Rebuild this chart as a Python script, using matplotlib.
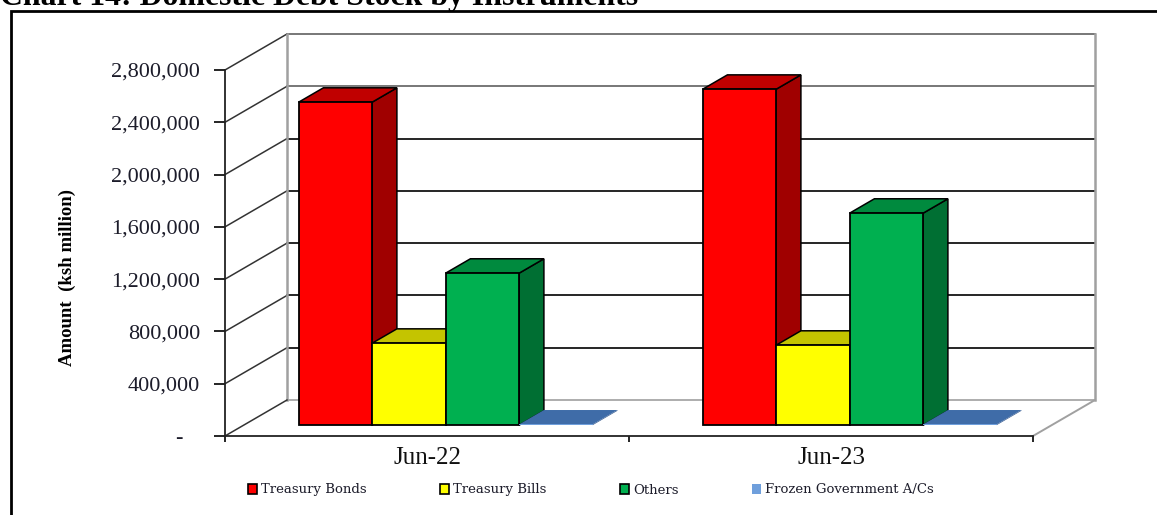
import matplotlib
matplotlib.use('Agg')
import matplotlib.pyplot as plt
from matplotlib.patches import Patch, Polygon

plt.rcParams['font.family'] = ['Liberation Serif', 'DejaVu Serif']

# Data
periods = ['Jun-22', 'Jun-23']
series_names = ['Treasury Bonds', 'Treasury Bills', 'Others', 'Frozen Government A/Cs']
treasury_bonds = [2471000, 2570000]
treasury_bills = [627000, 612000]
others = [1163000, 1622000]
frozen = [6000, 6000]
y_ticks = [0, 400000, 800000, 1200000, 1600000, 2000000, 2400000, 2800000]
y_labels = ['-   ', '400,000', '800,000', '1,200,000', '1,600,000', '2,000,000', '2,400,000', '2,800,000']

series_values = [treasury_bonds, treasury_bills, others, frozen]
front_colors = ['#ff0000', '#ffff00', '#00b050', '#6f9fdc']
top_colors = ['#c00000', '#c4c400', '#008a3e', '#3f6ca8']
side_colors = ['#a00000', '#a0a000', '#006f33', '#35598c']

W, H = 1157, 515
fig = plt.figure(figsize=(W / 100, H / 100), dpi=100)
ax = fig.add_axes([225 / W, (H - 436) / H, 808 / W, 366 / H])
ax.set_xlim(0, 2)
ax.set_ylim(0, 2800000)
ax.patch.set_alpha(0)

# depth of the 3d box, in data units
DX = 62 / 404
DY = 36 / 366 * 2800000
BAR_W = 73.5 / 404
NEAR, FAR = 0.30, 0.70


def proj(x, y, d):
    return (x + d * DX, y + d * DY)


def face(pts, color, edge='black', lw=1.1, z=3):
    ax.add_patch(Polygon(pts, closed=True, facecolor=color, edgecolor=edge,
                         linewidth=lw, clip_on=False, zorder=z, joinstyle='miter'))


# Walls and gridlines
wall_gray = '#a0a0a0'
for i, t in enumerate(y_ticks):
    c = '#606060' if t in (2400000, 2800000) else 'black'
    if t == 0:
        c = wall_gray
    xs, ys = zip(proj(0, t, 1), proj(2, t, 1))
    ax.plot(xs, ys, color=c, lw=1.2, clip_on=False, zorder=1)
    if t > 0:
        xs, ys = zip(proj(0, t, 0), proj(0, t, 1))
        ax.plot(xs, ys, color='#333333', lw=1.1, clip_on=False, zorder=1)
for x in (0, 2):
    xs, ys = zip(proj(x, 0, 1), proj(x, 2800000, 1))
    ax.plot(xs, ys, color=wall_gray, lw=1.8, clip_on=False, zorder=1)
xs, ys = zip(proj(0, 0, 0), proj(0, 0, 1))
ax.plot(xs, ys, color='#333333', lw=1.1, clip_on=False, zorder=1)
xs, ys = zip(proj(2, 0, 0), proj(2, 0, 1))
ax.plot(xs, ys, color=wall_gray, lw=1.4, clip_on=False, zorder=1)

# Bars, left to right so the nearer faces overlap properly
for i in range(len(periods)):
    start = i + (1 - 4 * BAR_W) / 2
    for j, vals in enumerate(series_values):
        v = vals[i]
        x0 = start + j * BAR_W
        x1 = x0 + BAR_W
        edge = 'black' if j < 3 else 'none'
        z = 3 + j
        # side
        face([proj(x1, 0, NEAR), proj(x1, 0, FAR), proj(x1, v, FAR), proj(x1, v, NEAR)],
             side_colors[j], edge, z=z)
        # top
        face([proj(x0, v, NEAR), proj(x1, v, NEAR), proj(x1, v, FAR), proj(x0, v, FAR)],
             top_colors[j], edge, z=z)
        # front
        face([proj(x0, 0, NEAR), proj(x1, 0, NEAR), proj(x1, v, NEAR), proj(x0, v, NEAR)],
             front_colors[j], edge, lw=1.3 if j < 3 else 0, z=z + 0.5)

# Axes
for s in ('top', 'right'):
    ax.spines[s].set_visible(False)
for s in ('left', 'bottom'):
    ax.spines[s].set_linewidth(1.3)
    ax.spines[s].set_color('#222222')
ax.set_yticks(y_ticks)
ax.set_yticklabels(y_labels, fontsize=16, color='#1c1c2a')
ax.set_xticks([0, 1, 2])
ax.set_xticklabels([])
ax.set_xticks([0.5, 1.5], minor=True)
ax.set_xticklabels(periods, minor=True, fontsize=18, color='#111111')
ax.tick_params(axis='x', which='minor', length=0, pad=8)
ax.tick_params(axis='x', which='major', length=4, width=1.2, direction='out')
ax.tick_params(axis='y', length=8, width=1.2, pad=10)
ax.set_ylabel('Amount  (ksh million)', fontsize=13.5, fontweight='bold', labelpad=0)
ax.yaxis.set_label_coords((76 - 225) / 808, (436 - 278) / 366)

# Legend
handles = [Patch(facecolor=front_colors[j], edgecolor='black' if j < 3 else 'none', linewidth=1.2)
           for j in range(4)]
leg = fig.legend(handles, series_names, ncol=4, frameon=False,
                 loc='center left', bbox_to_anchor=(236 / W, (H - 490) / H),
                 prop={'family': 'DejaVu Serif', 'size': 9.5},
                 handlelength=0.7, handleheight=0.7, handletextpad=0.3,
                 columnspacing=5.55, labelcolor='#1c1c2a')

# Page frame and title
fig.add_artist(plt.Line2D([10.5 / W, 10.5 / W, 1], [0, 1 - 11 / H, 1 - 11 / H],
                          color='black', lw=2, solid_joinstyle='miter'))
fig.text(0, 1 - 5 / H, 'Chart 14: Domestic Debt Stock by Instruments',
         fontsize=22.9, fontweight='bold', va='baseline', ha='left', color='black')

fig.savefig('out.png', dpi=100)
